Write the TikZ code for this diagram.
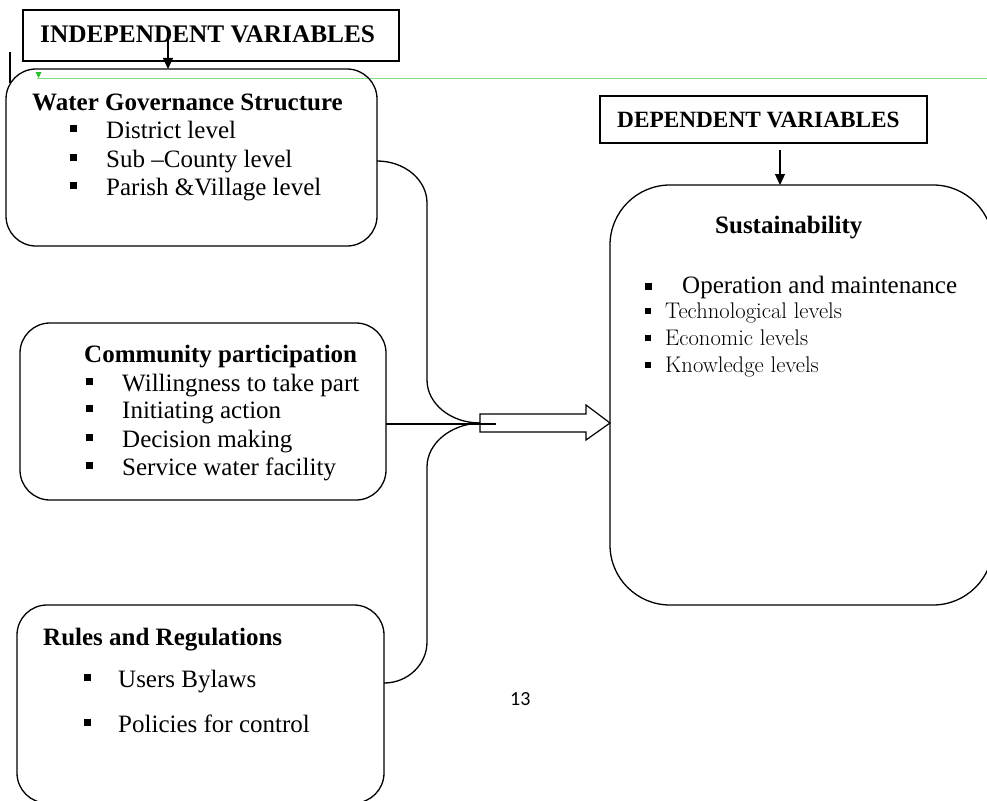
\documentclass[tikz,border=0pt]{standalone}
\usepackage{fontspec}
\setmainfont{Liberation Serif}
\newfontfamily\lmfont{Latin Modern Roman}
\newfontfamily\pgnumfont{Carlito}
\usetikzlibrary{arrows.meta}
\definecolor{lgreen}{RGB}{130,220,130}
\definecolor{dgreen}{RGB}{40,190,40}
\begin{document}
\begin{tikzpicture}[x=1pt,y=-1pt,
  rbox/.style={draw, line width=1.3pt, rounded corners=30pt, inner sep=0pt, outer sep=0pt},
  sbox/.style={draw, line width=1.2pt, inner sep=0pt, outer sep=0pt},
  ttl/.style={anchor=base west, inner sep=0pt, font=\fontsize{25}{30}\selectfont\bfseries},
  itm/.style={anchor=base west, inner sep=0pt, font=\fontsize{25}{30}\selectfont},
  sitm/.style={anchor=base west, inner sep=0pt, font=\lmfont\fontsize{22.6}{26}\selectfont},
  blt/.style={fill=black, draw=none, inner sep=0pt, minimum size=7pt, anchor=south west},
  sblt/.style={fill=black, draw=none, inner sep=0pt, minimum size=6pt, anchor=south west},
  conn/.style={line width=1.3pt},
  darr/.style={line width=1.3pt, -{Triangle[length=11pt,width=10pt]}}
]
\useasboundingbox (0,0) rectangle (987,800);

% header boxes
\node[sbox, minimum width=376pt, minimum height=51pt] (indep) at (211,35.5) {};
\node[ttl, font=\fontsize{25.3}{30}\selectfont\bfseries] (indeptxt) at (40,42) {INDEPENDENT VARIABLES};
\node[sbox, minimum width=327pt, minimum height=47pt] (dep) at (763.5,119.5) {};
\node[ttl, font=\fontsize{23.3}{27}\selectfont\bfseries] (deptxt) at (617,127) {DEPENDENT VARIABLES};

% green guide line with small marker
\coordinate (gl) at (37,78);
\coordinate (gr) at (987,78);
\draw[lgreen, line width=0.9pt] (gl) -- (gr);
\fill[dgreen] (35.5,72) -- (41.5,72) -- (38.5,78) -- cycle;

% stray black line at left
\coordinate (blt1) at (10,52);
\coordinate (blt2) at (10,83);
\draw[line width=1.2pt] (blt1) -- (blt2);

% main boxes
\node[rbox, minimum width=371pt, minimum height=177pt] (b1) at (191.5,157.5) {};
\node[rbox, minimum width=366pt, minimum height=177pt] (b2) at (203,411.5) {};
\node[rbox, minimum width=367pt, minimum height=198pt] (b3) at (200.5,704) {};
\node[rbox, rounded corners=60pt, minimum width=383pt, minimum height=420pt] (b4) at (801.5,395) {};

% arrows from headers
\coordinate (ia) at (168,37);
\draw[darr] (ia) -- (ia |- b1.north);
\coordinate (da) at (780,150);
\draw[darr] (da) -- (da |- b4.north);

% box 1 text
\node[ttl] (t1) at (32,110) {Water Governance Structure};
\node[blt] (p11) at (70,132) {}; \node[itm] (i11) at (106,138) {District level};
\node[blt] (p12) at (70,161) {}; \node[itm] (i12) at (106,167) {Sub \textendash County level};
\node[blt] (p13) at (70,189) {}; \node[itm] (i13) at (106,195) {Parish \&Village level};

% box 2 text
\node[ttl] (t2) at (84,362) {Community participation};
\node[blt] (p21) at (86,385) {}; \node[itm] (i21) at (122,391) {Willingness to take part};
\node[blt] (p22) at (86,412) {}; \node[itm] (i22) at (122,418) {Initiating action};
\node[blt] (p23) at (86,441) {}; \node[itm] (i23) at (122,447) {Decision making};
\node[blt] (p24) at (86,469) {}; \node[itm] (i24) at (122,475) {Service water facility};

% box 3 text
\node[ttl] (t3) at (43,645) {Rules and Regulations};
\node[blt] (p31) at (84,681) {}; \node[itm] (i31) at (118,687) {Users Bylaws};
\node[blt] (p32) at (84,726) {}; \node[itm] (i32) at (118,732) {Policies for control};

% box 4 text
\node[ttl] (t4) at (715,233) {Sustainability};
\node[blt] (p41) at (645,290) {}; \node[itm] (i41) at (682,293) {Operation and maintenance};
\node[sblt] (p42) at (645,314) {}; \node[sitm] (i42) at (665,318) {Technological levels};
\node[sblt] (p43) at (645,341) {}; \node[sitm] (i43) at (665,345) {Economic levels};
\node[sblt] (p44) at (645,368) {}; \node[sitm] (i44) at (665,372) {Knowledge levels};

% page number
\node[anchor=base west, inner sep=0pt, font=\pgnumfont\fontsize{20}{24}\selectfont] (pg) at (510,705) {13};

% hollow block arrow into sustainability
\coordinate (tail) at (480,423);
\coordinate (tip) at (b4.west |- tail);
\draw[line width=1.2pt, fill=white] (480,414) -- (586,414) -- (586,405) -- (tip) -- (586,440) -- (586,432) -- (480,432) -- cycle;

% brace-like connectors
\draw[conn] ([yshift=-3.5pt]b1.east) .. controls (404.6,161) and (427,179.8) .. (427,203)
  -- (427,380) .. controls (427,403.7) and (450.7,423) .. (tail);
\draw[conn] (tail) .. controls (450.7,424) and (427,443.3) .. (427,467)
  -- (427,642) .. controls (427,664.6) and (407.7,683) .. ([yshift=21pt]b3.east);
\draw[line width=2.2pt] ([yshift=-12.5pt]b2.east) -- (496,424);
\end{tikzpicture}
\end{document}
